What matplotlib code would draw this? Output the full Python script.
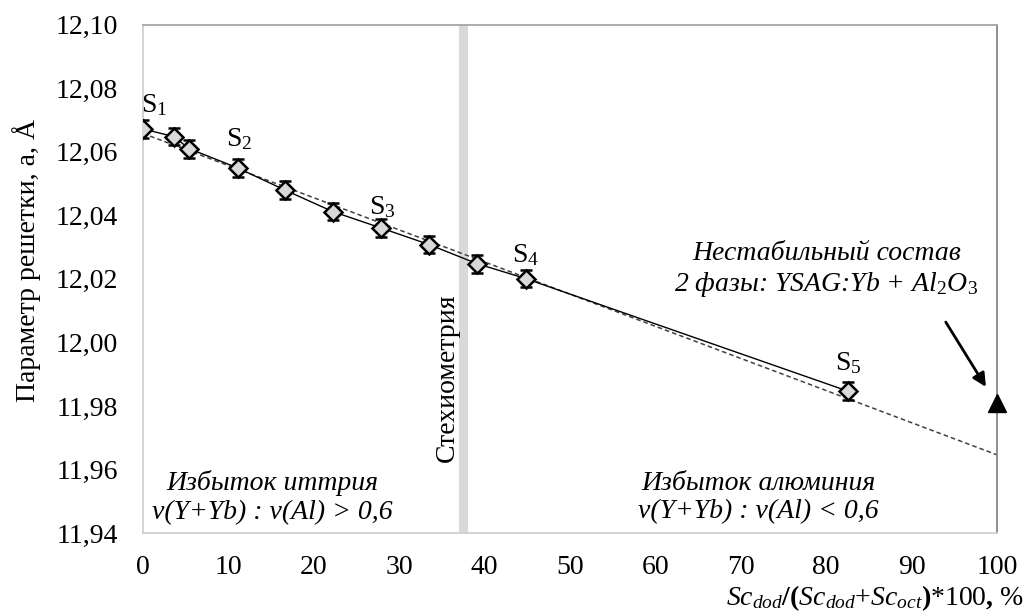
import numpy as np
import matplotlib
matplotlib.use('Agg')
import matplotlib.pyplot as plt

plt.rcParams['font.family'] = ['Liberation Serif', 'DejaVu Serif']
plt.rcParams['mathtext.fontset'] = 'custom'
plt.rcParams['mathtext.rm'] = 'Liberation Serif'
plt.rcParams['mathtext.it'] = 'Liberation Serif:italic'
plt.rcParams['mathtext.bf'] = 'Liberation Serif:bold'

# data
sc_dod = [0.0, 3.6, 5.4, 11.1, 16.6, 22.2, 27.9, 33.5, 39.1, 44.8, 82.6]
lattice = [12.0672, 12.0648, 12.0610, 12.0549, 12.0480, 12.0412, 12.0360,
           12.0308, 12.0248, 12.0201, 11.9846]
err = [0.0028] * len(sc_dod)

unstable_x = [100.0]
unstable_y = [11.9809]

stoich_x = 37.5

labels = ['S$_1$', 'S$_2$', 'S$_3$', 'S$_4$', 'S$_5$']
label_idx = [0, 3, 6, 9, 10]
label_off = [(8, 17), (1, 21), (1, 15), (0, 17), (0, 20)]

xticks = list(range(0, 101, 10))
yticks = [11.94, 11.96, 11.98, 12.00, 12.02, 12.04, 12.06, 12.08, 12.10]

FS = 20

fig = plt.figure(figsize=(10.27, 6.15), dpi=100)
ax = fig.add_axes([0.1392, 0.1333, 0.8316, 0.8265])

# linear trend through the samples
k, b = np.polyfit(sc_dod, lattice, 1)
xt = np.array([0, 100])
ax.plot(xt, k * xt + b, color='#404040', lw=1.1, ls=(0, (3, 2)), zorder=2)

ax.axvline(stoich_x, color='#d9d9d9', lw=6.5, zorder=1)

ax.plot(sc_dod, lattice, color='black', lw=1.0, zorder=3)
ax.errorbar(sc_dod, lattice, yerr=err, fmt='D', ms=9, mfc='#d9d9d9',
            mec='black', mew=1.8, ecolor='black', elinewidth=0.8,
            capsize=4, capthick=0.8, zorder=4)
ax.plot(unstable_x, unstable_y, '^', color='black', ms=13, zorder=5,
        clip_on=False)

for lab, i, off in zip(labels, label_idx, label_off):
    ax.annotate(lab, (sc_dod[i], lattice[i]), xytext=off,
                textcoords='offset points', ha='center', va='center',
                fontsize=FS)

ax.text(stoich_x - 0.4, 11.989, 'Стехиометрия', rotation=90, ha='right',
        va='center', fontsize=FS)

ax.text(15.1, 11.9512, 'Избыток иттрия\nv(Y+Yb) : v(Al) > 0,6',
        ha='center', va='center', style='italic', fontsize=FS,
        linespacing=1.2)
ax.text(72.1, 11.9512, 'Избыток алюминия\nv(Y+Yb) : v(Al) < 0,6',
        ha='center', va='center', style='italic', fontsize=FS,
        linespacing=1.2)
ax.text(80.0, 12.0228, 'Нестабильный состав\n2 фазы: YSAG:Yb + Al$_2$O$_3$',
        ha='center', va='center', style='italic', fontsize=FS,
        linespacing=1.2)
ax.annotate('', xy=(98.7, 11.9860), xytext=(94.0, 12.0064),
            arrowprops=dict(arrowstyle='-|>', color='black', lw=2.0,
                            mutation_scale=20, shrinkA=0, shrinkB=0))

ax.set_xlim(0, 100)
ax.set_ylim(11.94, 12.10)
ax.set_xticks(xticks)
ax.set_yticks(yticks)
ax.set_yticklabels([('%.2f' % v).replace('.', ',') for v in yticks])
ax.tick_params(length=0, labelsize=FS)
ax.tick_params(axis='x', pad=16)
ax.tick_params(axis='y', pad=18)

ax.spines['left'].set_color('#d0d0d0')
ax.spines['bottom'].set_color('#d0d0d0')
ax.spines['top'].set_color('#a6a6a6')
ax.spines['right'].set_color('#868686')
for s in ax.spines.values():
    s.set_linewidth(1.3)

ax.set_ylabel('Параметр решетки, а, Å', fontsize=FS)
ax.yaxis.set_label_coords(-0.119, 0.537)
fig.text(0.997, 0.004,
         r'$\mathit{Sc_{dod}}\mathbf{/(}\mathit{Sc_{dod}}$+$\mathit{Sc_{oct}}\mathbf{)}$*100$\mathbf{,}$ %',
         ha='right', va='bottom', fontsize=FS)

fig.savefig('out.png', dpi=100)
